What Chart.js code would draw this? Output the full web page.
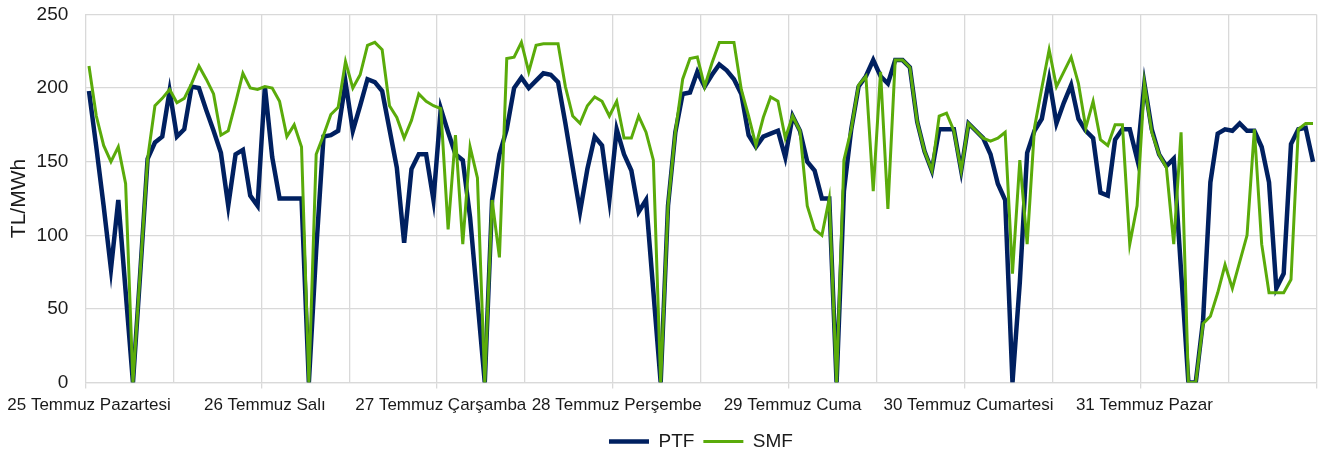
<!DOCTYPE html>
<html>
<head>
<meta charset="utf-8">
<script src="https://cdn.jsdelivr.net/npm/chart.js@4/dist/chart.umd.min.js"></script>
<style>
  html, body { margin: 0; padding: 0; background: #fff; }
  #wrap { width: 1320px; height: 457px; }
</style>
</head>
<body>
<div id="wrap"><canvas id="chart" width="1320" height="457"></canvas></div>
<script>
// Gün etiketleri (her gün 24 saat)
const days = ['25 Temmuz Pazartesi', '26 Temmuz Salı', '27 Temmuz Çarşamba', '28 Temmuz Perşembe',
  '29 Temmuz Cuma', '30 Temmuz Cumartesi', '31 Temmuz Pazar'];

// PTF saatlik değerler (TL/MWh)
const ptf = [
  198, 160, 120, 77, 124, 62, 0, 75, 152, 163, 167, 198, 167, 172, 201, 200, 185, 171, 156, 120, 155, 158, 127, 120,
  201, 153, 125, 125, 125, 125, 0, 90, 167, 168, 171, 204, 171, 188, 206, 204, 198, 172, 146, 95, 145, 155, 155, 124,
  186, 170, 155, 151, 112, 56, 0, 124, 155, 172, 200, 207, 200, 205, 210, 209, 204, 176, 146, 116, 145, 167, 161, 124,
  172, 155, 144, 116, 124, 62, 0, 120, 170, 196, 197, 211, 201, 209, 216, 212, 206, 196, 168, 160, 167, 169, 171, 153,
  181, 171, 150, 144, 125, 125, 0, 130, 172, 201, 208, 219, 208, 203, 219, 219, 214, 177, 157, 144, 172, 172, 172, 144,
  176, 171, 166, 155, 135, 124, 0, 68, 156, 171, 179, 206, 176, 190, 202, 179, 171, 166, 129, 127, 165, 172, 172, 152,
  203, 172, 155, 147, 152, 76, 0, 0, 42, 136, 169, 172, 171, 176, 171, 171, 160, 136, 64, 74, 162, 172, 173, 150
];

// SMF saatlik değerler (TL/MWh)
const smf = [
  215, 181, 161, 150, 160, 135, 0, 76, 152, 188, 193, 199, 190, 193, 203, 215, 206, 196, 168, 171, 190, 210, 200, 199,
  201, 200, 191, 167, 175, 160, 0, 155, 168, 182, 187, 218, 200, 209, 229, 231, 226, 188, 180, 166, 178, 196, 191, 188,
  186, 104, 168, 94, 160, 139, 0, 124, 85, 220, 221, 231, 211, 229, 230, 230, 230, 201, 181, 176, 188, 194, 191, 181,
  191, 166, 166, 181, 170, 151, 0, 120, 170, 206, 220, 221, 201, 217, 231, 231, 231, 199, 181, 161, 180, 194, 191, 166,
  181, 171, 120, 104, 100, 125, 0, 151, 172, 202, 208, 130, 211, 118, 219, 219, 214, 177, 157, 144, 181, 183, 171, 144,
  176, 171, 166, 164, 166, 170, 74, 151, 94, 173, 200, 226, 201, 211, 221, 203, 173, 191, 165, 161, 175, 175, 94, 120,
  203, 170, 155, 146, 94, 170, 0, 0, 40, 45, 61, 80, 64, 82, 100, 172, 94, 61, 61, 61, 70, 172, 176, 176
];

// Eksen değerleri
const yTicks = [0, 50, 100, 150, 200, 250];

// Her saat için bir kategori
const labels = ptf.map((v, i) => days[Math.floor(i / 24)] + ' ' + String(i % 24).padStart(2, '0') + ':00');

const gridColor = '#d9d9d9';
const textColor = '#1a1a1a';
const fontFamily = 'Liberation Sans, Arial, sans-serif';
const clear = 'rgba(0,0,0,0)';

const ctx = document.getElementById('chart').getContext('2d');
new Chart(ctx, {
  type: 'line',
  data: {
    labels: labels,
    datasets: [
      {
        label: 'PTF',
        data: ptf,
        borderColor: '#002060',
        backgroundColor: '#002060',
        borderWidth: 4.5,
        pointRadius: 0,
        tension: 0,
        order: 2
      },
      {
        label: 'SMF',
        data: smf,
        borderColor: '#5aab0a',
        backgroundColor: '#5aab0a',
        borderWidth: 3,
        pointRadius: 0,
        tension: 0,
        order: 1
      }
    ]
  },
  options: {
    responsive: false,
    animation: false,
    layout: { padding: { top: 0, right: 2, bottom: -4, left: 0 } },
    plugins: {
      tooltip: { enabled: false },
      legend: {
        position: 'bottom',
        fullSize: false,
        labels: {
          usePointStyle: true,
          pointStyle: 'line',
          pointStyleWidth: 40,
          boxWidth: 40,
          padding: 9,
          color: textColor,
          font: { family: fontFamily, size: 19 },
          sort: (a, b) => a.datasetIndex - b.datasetIndex
        }
      }
    },
    scales: {
      x: {
        offset: true,
        grid: {
          offset: true,
          color: (c) => (c.index === undefined || c.index % 12 === 0) ? gridColor : clear,
          tickColor: (c) => (c.index === undefined || c.index % 24 === 0) ? gridColor : clear,
          tickLength: 6,
          lineWidth: 1.3
        },
        border: { color: gridColor, width: 1.3 },
        ticks: {
          autoSkip: false,
          maxRotation: 0,
          minRotation: 0,
          padding: 7,
          color: textColor,
          font: { family: fontFamily, size: 17 },
          callback: (v, i) => (i % 24 === 0 ? days[i / 24] : '')
        }
      },
      y: {
        min: 0,
        max: 250,
        afterBuildTicks: (s) => { s.ticks = yTicks.map(v => ({ value: v })); },
        afterFit: (s) => { s.width = 85; },
        grid: { color: gridColor, tickColor: clear, tickLength: 14, lineWidth: 1.3 },
        border: { display: false },
        ticks: {
          padding: 3,
          color: textColor,
          font: { family: fontFamily, size: 19 }
        },
        title: {
          display: true,
          text: 'TL/MWh',
          color: textColor,
          padding: { top: 6, bottom: 0 },
          font: { family: fontFamily, size: 21 }
        }
      }
    }
  }
});
</script>
</body>
</html>
